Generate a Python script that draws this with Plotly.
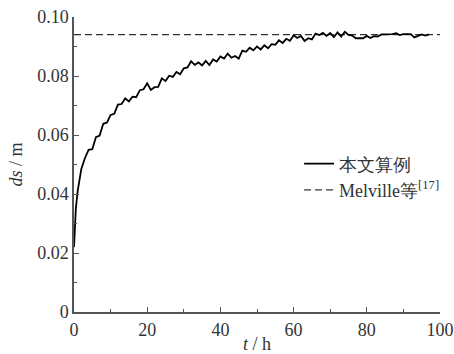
import plotly.graph_objects as go

t_early = [0, 0.25, 0.5, 1, 1.5]
v_early = [0.022, 0.030, 0.035, 0.041, 0.045]

t_main = list(range(2, 98))
v_main = [
    0.0485, 0.0522, 0.0550, 0.0552, 0.0593, 0.0598, 0.0638, 0.0642, 0.0668, 0.0672,
    0.0703, 0.0705, 0.0724, 0.0714, 0.0730, 0.0728, 0.0752, 0.0755, 0.0775, 0.0753,
    0.0762, 0.0763, 0.0792, 0.0783, 0.0801, 0.0797, 0.0814, 0.0806, 0.0826, 0.0829,
    0.0850, 0.0838, 0.0846, 0.0836, 0.0851, 0.0837, 0.0856, 0.0849, 0.0866, 0.0859,
    0.0876, 0.0862, 0.0868, 0.0859, 0.0886, 0.0882, 0.0896, 0.0887, 0.0900, 0.0890,
    0.0904, 0.0894, 0.0908, 0.0906, 0.0921, 0.0912, 0.0926, 0.0919, 0.0938, 0.0929,
    0.0936, 0.0919, 0.0928, 0.0924, 0.0944, 0.0939, 0.0946, 0.0936, 0.0946, 0.0932,
    0.0948, 0.0934, 0.0950, 0.0939, 0.0937, 0.0928, 0.0929, 0.0928, 0.0936, 0.0929,
    0.0935, 0.0934, 0.0941, 0.0941, 0.0943, 0.0942, 0.0945, 0.0939, 0.0942, 0.0943,
    0.0942, 0.0931, 0.0935, 0.0941, 0.0937, 0.0941,
]

t_ref = [0, 100]
v_ref = [0.094, 0.094]

x_ticks = [0, 20, 40, 60, 80, 100]
y_ticks = [0, 0.02, 0.04, 0.06, 0.08, 0.10]
y_tick_text = ["0", "0.02", "0.04", "0.06", "0.08", "0.10"]

FONT = "Liberation Serif"
TXT = "#333"

fig = go.Figure()
fig.add_trace(go.Scatter(
    x=t_early + t_main, y=v_early + v_main, mode="lines",
    line=dict(color="black", width=1.8), name="本文算例",
))
fig.add_trace(go.Scatter(
    x=t_ref, y=v_ref, mode="lines",
    line=dict(color="black", width=1, dash="7px,4px"), name="Melville等<sup>[17]</sup>",
))

axis_common = dict(
    showline=True, linecolor="#555", linewidth=1.5,
    ticks="inside", ticklen=5, tickwidth=1.2, tickcolor="#555",
    showgrid=False, zeroline=False, mirror=False, automargin=False,
    tickfont=dict(family=FONT, size=18, color=TXT),
)

fig.update_xaxes(
    range=[0, 100], tickvals=x_ticks, ticklabelstandoff=1,
    minor=dict(ticks="inside", ticklen=3, tickwidth=1.2, tickcolor="#555", dtick=10, tick0=0),
    title=dict(text="<i>t</i> / h", font=dict(family=FONT, size=18, color=TXT), standoff=0),
    **axis_common,
)
fig.update_yaxes(
    range=[0, 0.1], tickvals=y_ticks, ticktext=y_tick_text,
    minor=dict(ticks="inside", ticklen=3, tickwidth=1.2, tickcolor="#555", dtick=0.01, tick0=0),
    title=dict(text="<i>ds</i> / m", font=dict(family=FONT, size=18, color=TXT), standoff=10),
    **axis_common,
)

fig.update_layout(
    width=454, height=354,
    margin=dict(l=74, r=14, t=17, b=42, autoexpand=False),
    paper_bgcolor="white", plot_bgcolor="white",
    showlegend=True,
    legend=dict(
        x=0.615, y=0.565, xanchor="left", yanchor="top",
        font=dict(family=FONT, size=18, color=TXT),
        itemwidth=30, bgcolor="rgba(0,0,0,0)", tracegroupgap=0,
    ),
)

fig.write_html("out.html")
